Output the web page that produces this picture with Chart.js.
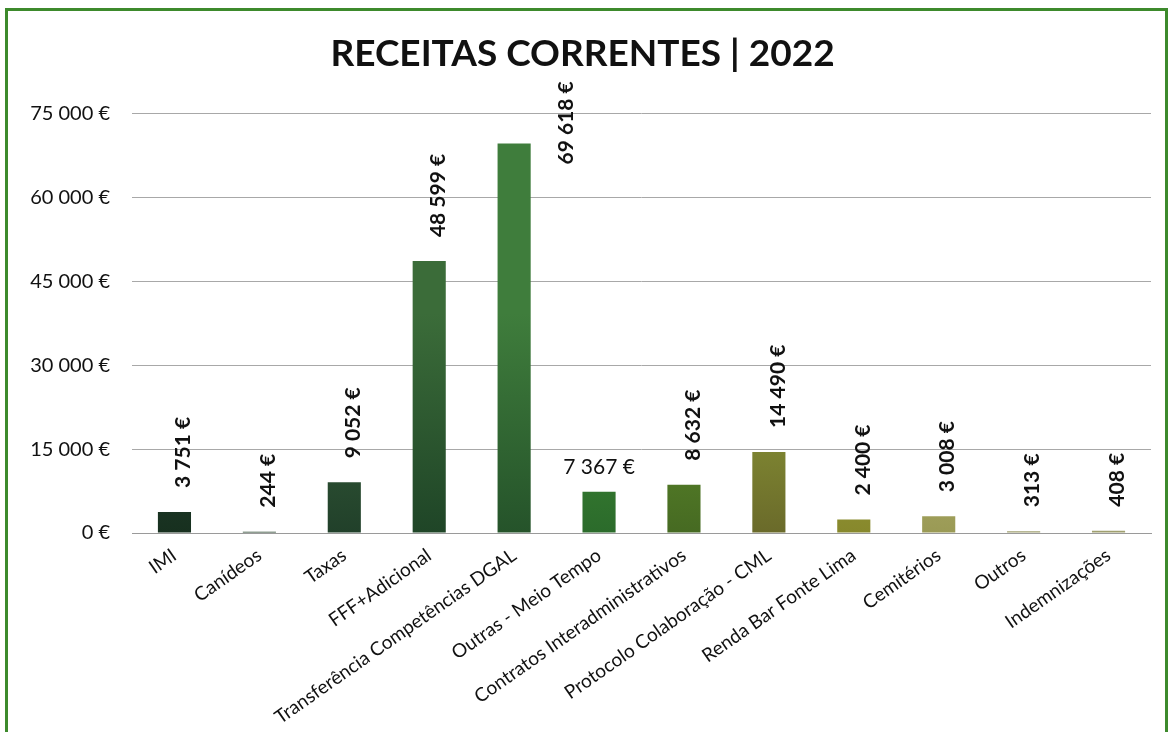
<!DOCTYPE html>
<html><head><meta charset="utf-8">
<script src="https://cdn.jsdelivr.net/npm/chart.js@4/dist/chart.umd.min.js"></script>
<style>html,body{margin:0;padding:0;background:#fff;}#wrap{position:relative;width:1173px;height:732px;}</style>
</head><body><div id="wrap"><canvas id="c" width="1173" height="732"></canvas></div>
<script>
const categories = ['IMI','Canídeos','Taxas','FFF+Adicional','Transferência Competências DGAL','Outras - Meio Tempo','Contratos Interadministrativos','Protocolo Colaboração - CML','Renda Bar Fonte Lima','Cemitérios','Outros','Indemnizações'];
const values = [3751,244,9052,48599,69618,7367,8632,14490,2400,3008,313,408];
const yTicks = [0,15000,30000,45000,60000,75000];
const titleText = 'RECEITAS CORRENTES | 2022';

const barTop = ['#2c4d3c','#3a5e40','#3f6b40','#3b6c39','#3f7d3c','#4c963a','#6c9c30','#9aab3c','#aab344','#c9c385','#c8c890','#c8c890'];
const barBot = ['#17301f','#223f28','#21402a','#1f4527','#25532a','#2b6b2b','#466a22','#6a6a2a','#87882c','#9a9a55','#a0a070','#a0a070'];
const labelModes = ['up','up','up','up','side','flat','up','up','up','up','up','up'];

const fmt = n => String(n).replace(/\B(?=(\d{3})+(?!\d))/g,' ') + ' €';
const FONT = 'Lato, "Open Sans", sans-serif';

const framePlugin = {
  id:'frame',
  beforeDraw(chart){
    const ctx = chart.ctx;
    ctx.save();
    ctx.fillStyle = '#fff';
    ctx.fillRect(0,0,chart.width,chart.height);
    ctx.strokeStyle = '#3d8a2c';
    ctx.lineWidth = 3;
    ctx.strokeRect(6.5,9.5,1160,740);
    ctx.restore();
  }
};

const labelPlugin = {
  id:'vlabels',
  afterDatasetsDraw(chart){
    const ctx = chart.ctx;
    const meta = chart.getDatasetMeta(0);
    ctx.save();
    ctx.fillStyle = '#111';
    meta.data.forEach((bar,i)=>{
      const txt = fmt(values[i]);
      const mode = labelModes[i];
      if(mode === 'flat'){
        ctx.font = '21px ' + FONT;
        ctx.textAlign='center'; ctx.textBaseline='middle';
        ctx.fillText(txt, bar.x, bar.y - 25);
      } else {
        ctx.font = 'bold 21px ' + FONT;
        ctx.save();
        let px = bar.x + 9, py = bar.y - 24;
        if(mode === 'side'){ px = bar.x + 52; py = bar.y + 21; }
        ctx.translate(px, py);
        ctx.rotate(-Math.PI/2);
        ctx.textAlign='left'; ctx.textBaseline='middle';
        ctx.fillText(txt,0,0);
        ctx.restore();
      }
    });
    ctx.restore();
  }
};

new Chart(document.getElementById('c'), {
  type:'bar',
  data:{
    labels: categories,
    datasets:[{
      data: values,
      backgroundColor(ctx){
        const ca = ctx.chart.chartArea;
        if(!ca) return barTop[ctx.dataIndex];
        const g = ctx.chart.ctx.createLinearGradient(0, ca.top+200, 0, ca.bottom);
        g.addColorStop(0, barTop[ctx.dataIndex]);
        g.addColorStop(1, barBot[ctx.dataIndex]);
        return g;
      },
      borderWidth:0,
      barPercentage:0.39,
      categoryPercentage:1
    }]
  },
  options:{
    responsive:false,
    animation:false,
    layout:{padding:{left:14,right:22,top:0,bottom:8}},
    plugins:{
      legend:{display:false},
      tooltip:{enabled:false},
      title:{display:true,text:titleText,color:'#111',font:{family:FONT,size:37,weight:'bold'},padding:{top:32,bottom:37}}
    },
    scales:{
      x:{
        grid:{display:false},
        border:{display:true,color:'#9a9a9a'},
        ticks:{color:'#111',font:{family:FONT,size:19},minRotation:35,maxRotation:35,autoSkip:false,padding:3},
        afterFit(s){ s.height = 191; }
      },
      y:{
        min:0,max:75000,
        afterBuildTicks(s){ s.ticks = yTicks.map(v=>({value:v})); },
        grid:{color:'#a8a8a8',lineWidth:1,drawTicks:false},
        border:{display:false},
        ticks:{color:'#111',font:{family:FONT,size:20},padding:22,callback:v=>fmt(v)},
        afterFit(s){ s.width = 118; }
      }
    }
  },
  plugins:[framePlugin,labelPlugin]
});
</script></body></html>
